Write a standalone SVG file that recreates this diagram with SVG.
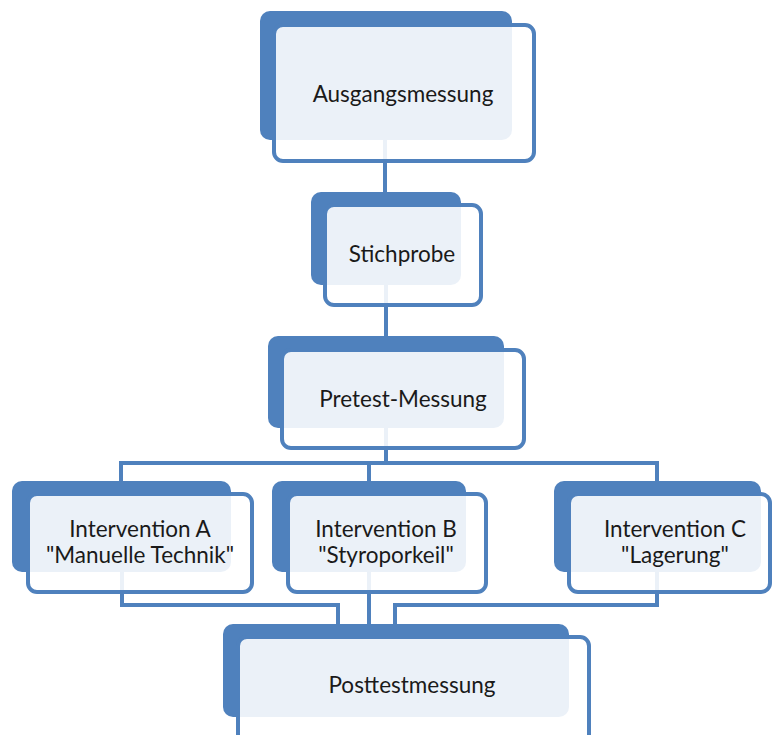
<svg xmlns="http://www.w3.org/2000/svg" width="772" height="735" viewBox="0 0 772 735">
<style>
.back{fill:#4F81BD}
.front{fill:#FFFFFF;fill-opacity:0.89;stroke:#4F81BD;stroke-width:4}
.conn{fill:none;stroke:#4F81BD;stroke-width:4;stroke-linejoin:miter}
.lbl{font-family:Lato,"Liberation Sans",sans-serif;font-size:22.5px;fill:#1a1a1a;text-anchor:middle}
</style>
<rect width="772" height="735" fill="#FFFFFF"/>
<g id="connectors">
<path class="conn" d="M385 100 V260"/>
<path class="conn" d="M386 250 V400"/>
<path class="conn" d="M386 400 V463"/>
<path class="conn" d="M121 520 V463 H657 V520"/>
<path class="conn" d="M369 463 V520"/>
<path class="conn" d="M122 540 V605 H338 V660"/>
<path class="conn" d="M369 540 V660"/>
<path class="conn" d="M657 540 V605 H395 V660"/>
</g>
<g id="ausgangsmessung">
<rect class="back" x="260" y="11" width="252" height="129" rx="10"/>
<rect class="front" x="274" y="25" width="260" height="136" rx="9"/>
<text class="lbl" x="403" y="102">Ausgangsmessung</text>
</g>
<g id="stichprobe">
<rect class="back" x="311" y="192" width="150" height="93" rx="10"/>
<rect class="front" x="325" y="205" width="156" height="100" rx="9"/>
<text class="lbl" x="402" y="262">Stichprobe</text>
</g>
<g id="pretest">
<rect class="back" x="268" y="336" width="236" height="92" rx="10"/>
<rect class="front" x="282" y="350" width="242" height="98" rx="9"/>
<text class="lbl" x="403" y="407">Pretest-Messung</text>
</g>
<g id="interventionA">
<rect class="back" x="12" y="481" width="219" height="91" rx="10"/>
<rect class="front" x="28" y="494" width="224" height="98" rx="9"/>
<text class="lbl" x="140" y="537">Intervention A</text>
<text class="lbl" x="140" y="563">"Manuelle Technik"</text>
</g>
<g id="interventionB">
<rect class="back" x="272" y="481" width="194" height="91" rx="10"/>
<rect class="front" x="288" y="494" width="198" height="98" rx="9"/>
<text class="lbl" x="386" y="537">Intervention B</text>
<text class="lbl" x="386" y="563">"Styroporkeil"</text>
</g>
<g id="interventionC">
<rect class="back" x="554" y="481" width="207" height="91" rx="10"/>
<rect class="front" x="569" y="494" width="201" height="98" rx="9"/>
<text class="lbl" x="675" y="537">Intervention C</text>
<text class="lbl" x="675" y="563">"Lagerung"</text>
</g>
<g id="posttest">
<rect class="back" x="223" y="624" width="346" height="93" rx="10"/>
<rect class="front" x="238" y="637" width="351" height="110" rx="9"/>
<text class="lbl" x="412" y="693">Posttestmessung</text>
</g>
</svg>
